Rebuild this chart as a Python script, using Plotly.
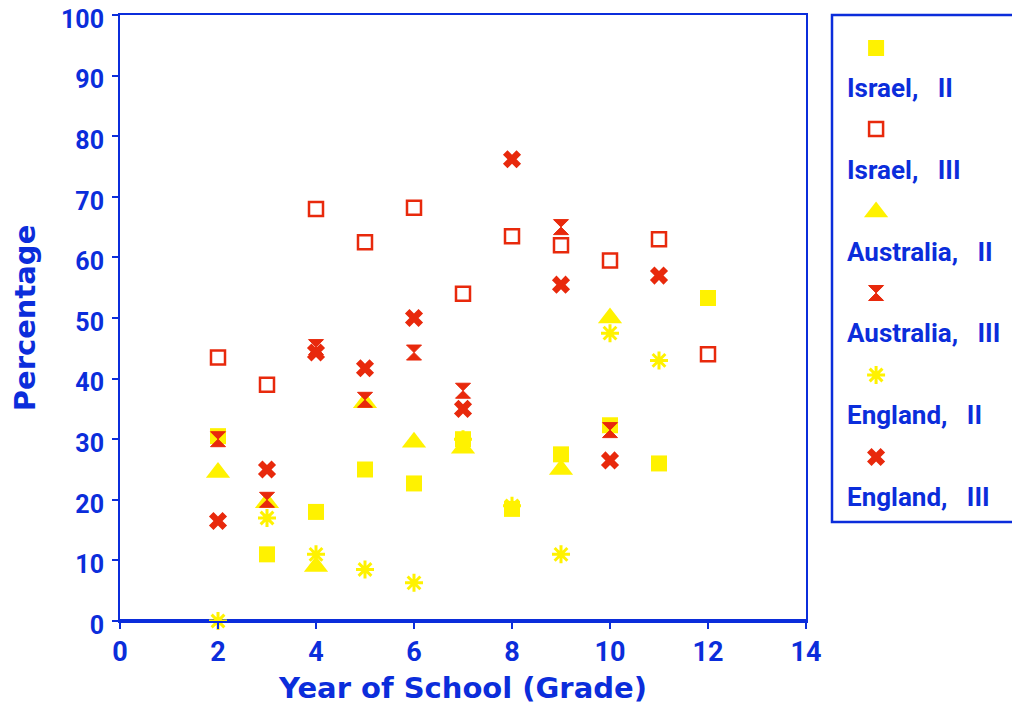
import plotly.graph_objects as go

BLUE = "#0b2ddb"
RED = "#e8290c"
YELLOW = "#fff200"

# ---- data ----
israel2_x = [2, 3, 4, 5, 6, 7, 8, 9, 10, 11, 12]
israel2_y = [30.5, 11, 18, 25, 22.7, 30, 18.5, 27.5, 32.3, 26, 53.3]

israel3_x = [2, 3, 4, 5, 6, 7, 8, 9, 10, 11, 12]
israel3_y = [43.5, 39, 68, 62.5, 68.2, 54, 63.5, 62, 59.5, 63, 44]

australia2_x = [2, 3, 4, 5, 6, 7, 9, 10]
australia2_y = [24.5, 19.5, 9, 36, 29.5, 28.5, 25, 50]

australia3_x = [2, 3, 4, 5, 6, 7, 9, 10]
australia3_y = [30, 20, 45.2, 36.5, 44.3, 38, 65, 31.5]

england2_x = [2, 3, 4, 5, 6, 7, 8, 9, 10, 11]
england2_y = [0, 17, 11, 8.5, 6.3, 30, 19, 11, 47.5, 43]

england3_x = [2, 3, 4, 5, 6, 7, 8, 9, 10, 11]
england3_y = [16.5, 25, 44.3, 41.7, 50, 35, 76.2, 55.5, 26.5, 57]

legend_labels = ["Israel,   II", "Israel,   III", "Australia,   II",
                 "Australia,   III", "England,   II", "England,   III"]

x_ticks = [0, 2, 4, 6, 8, 10, 12, 14]
y_ticks = [0, 10, 20, 30, 40, 50, 60, 70, 80, 90, 100]

# ---- styles ----
styles = [
    dict(symbol="square", color=YELLOW, size=16, line=dict(width=0)),
    dict(symbol="square-open", color=RED, size=14, line=dict(width=2.5, color=RED)),
    dict(symbol="triangle-up", color=YELLOW, size=21, line=dict(width=0)),
    dict(symbol="hourglass", color=RED, size=15, line=dict(width=1, color=RED)),
    dict(symbol="asterisk-open", color=YELLOW, size=15, line=dict(width=3, color=YELLOW)),
    dict(symbol="x", color=RED, size=16, line=dict(width=0)),
]
series = [
    (israel2_x, israel2_y), (israel3_x, israel3_y),
    (australia2_x, australia2_y), (australia3_x, australia3_y),
    (england2_x, england2_y), (england3_x, england3_y),
]
draw_order = [4, 2, 0, 1, 3, 5]

# page body has an 8px offset; work in screen pixels and subtract it
OFF = 8
W, H = 1020, 713
ML = 120 - OFF
MT = 15 - OFF
MB = H - (621 - OFF)
MR = W - (1018 - OFF)
PW = W - ML - MR
PH = H - MT - MB

def px_x(p):
    return (p - OFF - ML) / PW

def px_y(p):
    return (H - MB - (p - OFF)) / PH

fig = go.Figure()
for i in draw_order:
    sx, sy = series[i]
    fig.add_trace(go.Scatter(x=sx, y=sy, mode="markers", marker=styles[i],
                             showlegend=False, cliponaxis=False,
                             xaxis="x", yaxis="y", hoverinfo="x+y",
                             name=legend_labels[i]))

# legend markers on a separate axis pair
leg_marker_off = [33, 114, 197, 278, 360, 442]
leg_text_off = [73, 155, 237, 318, 400, 482]
for i in range(6):
    fig.add_trace(go.Scatter(x=[0.237], y=[leg_marker_off[i]], mode="markers",
                             marker=styles[i], showlegend=False,
                             xaxis="x2", yaxis="y2", hoverinfo="skip"))

FONT = "Roboto, sans-serif"
TFONT = "DejaVu Sans, sans-serif"

for i in range(6):
    fig.add_annotation(x=0.07, y=leg_text_off[i], xref="x2", yref="y2",
                       text="<b>" + legend_labels[i] + "</b>", showarrow=False,
                       xanchor="left", yanchor="middle",
                       font=dict(family=FONT, size=26, color=BLUE))

fig.update_layout(
    width=W, height=H,
    margin=dict(l=ML, r=MR, t=MT, b=MB, autoexpand=False),
    paper_bgcolor="white", plot_bgcolor="white",
    font=dict(family=FONT, color=BLUE),
    xaxis=dict(domain=[0, px_x(806)], range=[0, 14], tickvals=x_ticks,
               ticktext=["<b>%d</b>" % v for v in x_ticks], automargin=False,
               showgrid=False, zeroline=False, showline=True, mirror=True,
               linecolor=BLUE, linewidth=2, ticks="outside", ticklen=6,
               tickwidth=2, tickcolor=BLUE, tickfont=dict(size=27, color=BLUE),
               ticklabeloverflow="allow",
               title=dict(text="<b>Year of School (Grade)</b>",
                          font=dict(family=TFONT, size=29, color=BLUE), standoff=10)),
    yaxis=dict(domain=[0, 1], range=[0, 100], tickvals=y_ticks,
               ticktext=["<b>%d</b>" % v for v in y_ticks], automargin=False,
               showgrid=False, zeroline=False, showline=True, mirror=True,
               linecolor=BLUE, linewidth=2, ticks="outside", ticklen=6,
               tickwidth=2, tickcolor=BLUE, tickfont=dict(size=25, color=BLUE),
               ticklabelstandoff=3, ticklabelshift=4, ticklabeloverflow="allow",
               title=dict(text="<b>Percentage</b>",
                          font=dict(family=TFONT, size=29, color=BLUE), standoff=28)),
    xaxis2=dict(domain=[px_x(832), 1.0], range=[0, 1], visible=False,
                anchor="y2", fixedrange=True),
    yaxis2=dict(domain=[px_y(522), px_y(15)], range=[507, 0], visible=False,
                anchor="x2", fixedrange=True),
    shapes=[
        dict(type="rect", xref="x2 domain", yref="y2 domain", x0=0, x1=1, y0=0, y1=1,
             line=dict(color=BLUE, width=2.5)),
        dict(type="line", xref="x domain", yref="y", x0=0, x1=1, y0=0, y1=0,
             line=dict(color=BLUE, width=4), layer="below"),
    ],
)

fig.write_html("out.html")
